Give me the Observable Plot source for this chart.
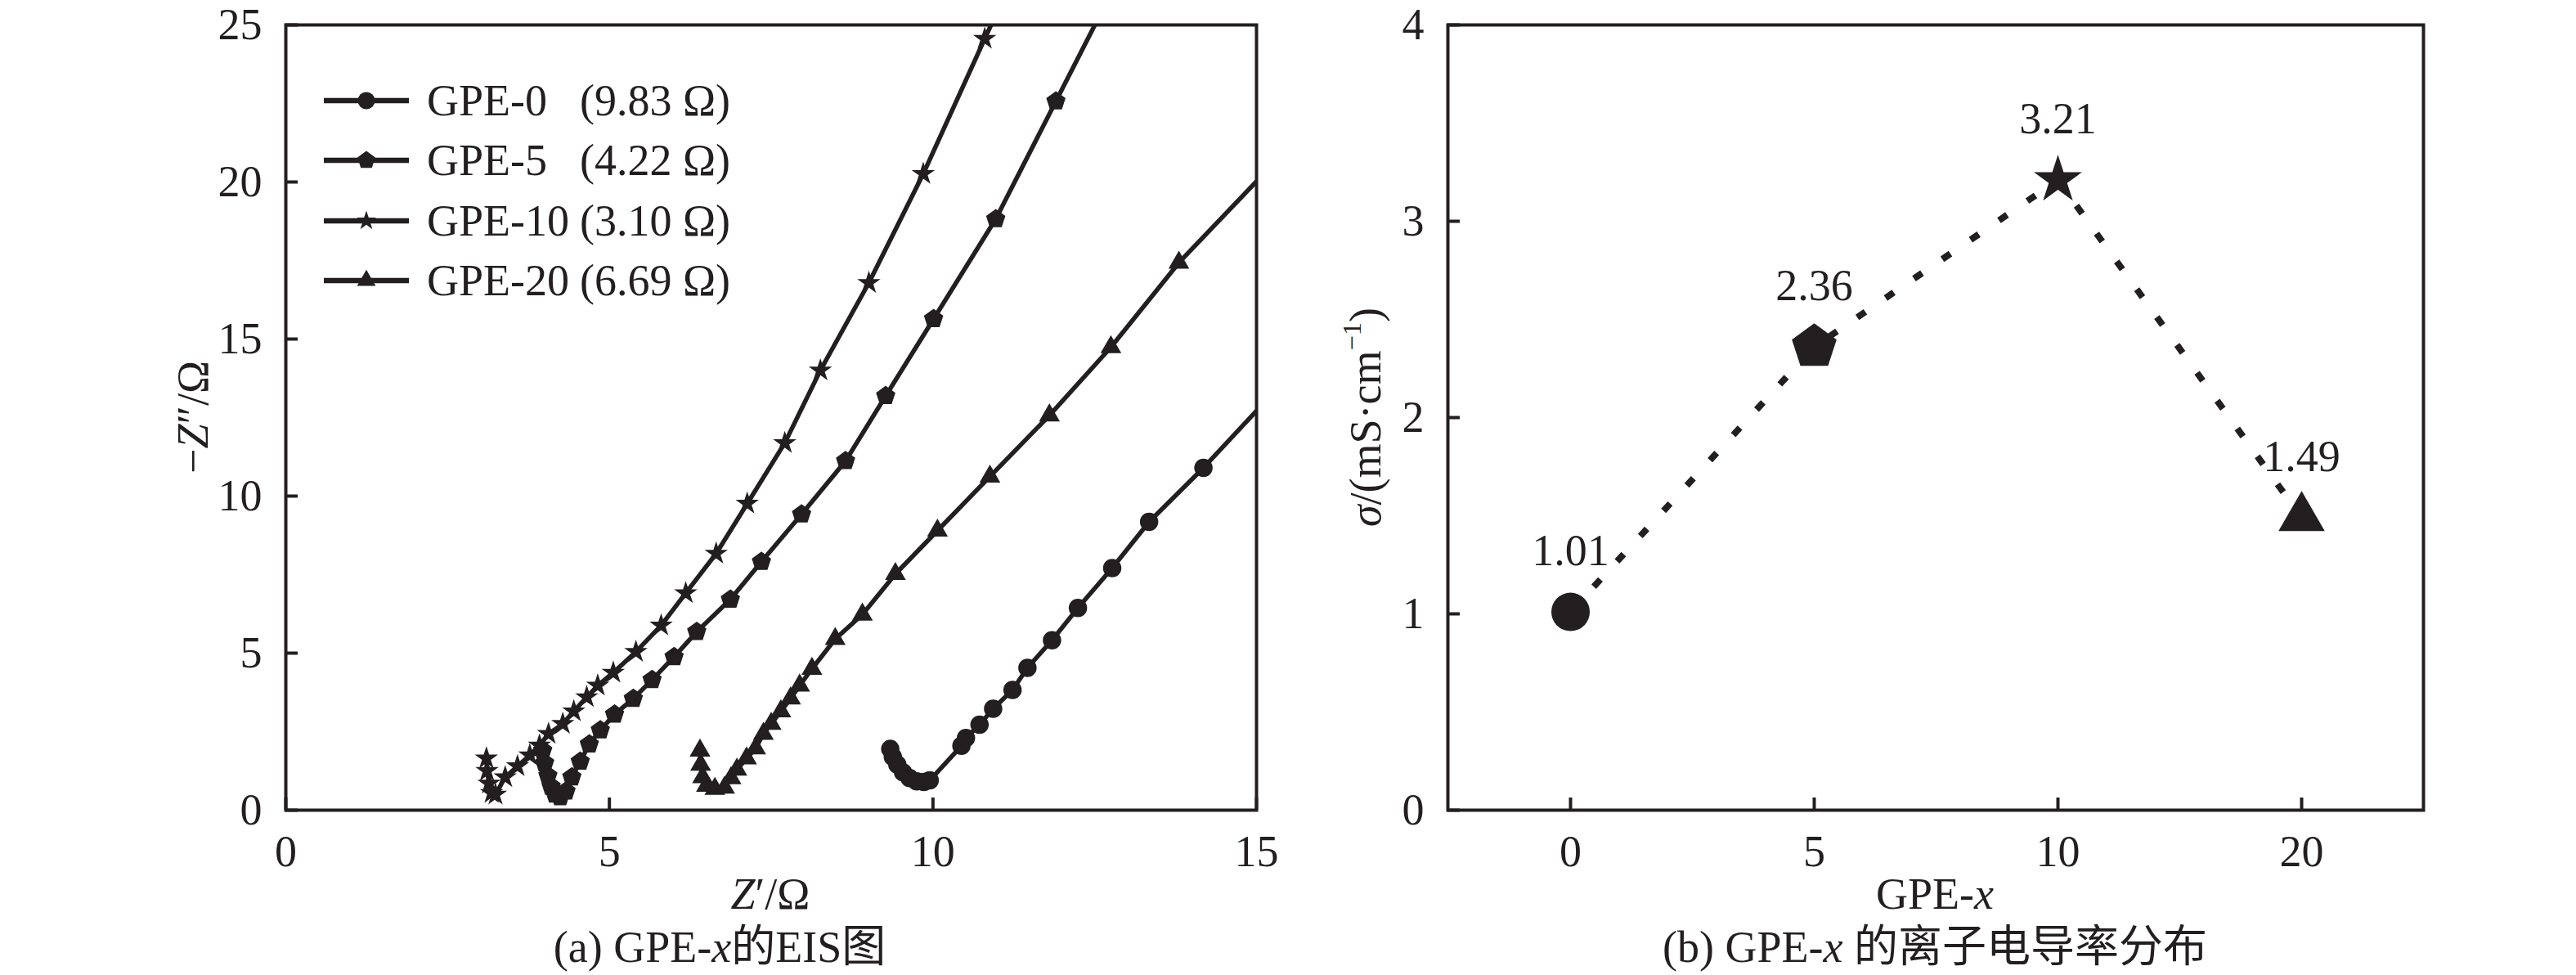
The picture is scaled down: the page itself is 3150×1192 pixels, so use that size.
<!DOCTYPE html>
<html><head><meta charset="utf-8">
<script src="https://cdn.jsdelivr.net/npm/d3@7"></script>
<script src="https://cdn.jsdelivr.net/npm/@observablehq/plot@0.6"></script>
<style>
body{margin:0;background:#fff;}
#wrap{position:relative;width:3150px;height:1192px;overflow:hidden;background:#fff;font-family:"Liberation Serif","Noto Sans CJK SC",serif;color:#231f20;}
.panel{position:absolute;top:0;}
.lbl{position:absolute;transform:translate(-50%,-50%);white-space:nowrap;font-size:54px;line-height:1.15;}
.rot{transform:translate(-50%,-50%) rotate(-90deg);}
.lbl sup{font-size:0.6em;vertical-align:0.75em;line-height:0;}
.leg{position:absolute;height:40px;font-size:54px;line-height:40px;white-space:nowrap;}
.leg svg{position:absolute;left:0;top:0;}
.leg span{position:absolute;top:0;}
</style></head>
<body><div id="wrap"></div>
<script>
const ink = "#231f20";
const FONT = '"Liberation Serif","Noto Sans CJK SC",serif';

// ---- Panel (a): Nyquist data ----
const seriesNames = ["GPE-0", "GPE-5", "GPE-10", "GPE-20"];
const seriesRb = ["(9.83 Ω)", "(4.22 Ω)", "(3.10 Ω)", "(6.69 Ω)"];
const gpe0Re = [9.34, 9.38, 9.45, 9.54, 9.64, 9.75, 9.86, 9.95, 10.44, 10.51, 10.72, 10.93, 11.23, 11.46, 11.84, 12.24, 12.77, 13.34, 14.18, 15.4];
const gpe0Im = [1.95, 1.7, 1.45, 1.2, 1.02, 0.92, 0.9, 0.95, 2.05, 2.3, 2.72, 3.23, 3.83, 4.53, 5.41, 6.44, 7.71, 9.18, 10.9, 13.6];
const gpe5Re = [3.97, 4.0, 4.05, 4.1, 4.16, 4.24, 4.33, 4.42, 4.55, 4.69, 4.86, 5.08, 5.37, 5.66, 6.0, 6.35, 6.87, 7.35, 7.97, 8.65, 9.27, 10.01, 10.97, 11.9, 12.8];
const gpe5Im = [1.9, 1.5, 1.1, 0.75, 0.5, 0.42, 0.6, 1.05, 1.55, 2.1, 2.55, 3.05, 3.55, 4.15, 4.88, 5.68, 6.71, 7.91, 9.42, 11.12, 13.19, 15.64, 18.82, 22.57, 26.2];
const gpe10Re = [3.1, 3.11, 3.14, 3.18, 3.24, 3.39, 3.58, 3.77, 3.92, 4.06, 4.28, 4.45, 4.65, 4.82, 5.06, 5.41, 5.8, 6.18, 6.65, 7.13, 7.71, 8.26, 9.01, 9.85, 10.8, 11.1];
const gpe10Im = [1.65, 1.25, 0.85, 0.55, 0.5, 1.05, 1.4, 1.75, 2.06, 2.43, 2.75, 3.15, 3.6, 3.97, 4.38, 5.04, 5.88, 6.91, 8.17, 9.76, 11.69, 14.0, 16.79, 20.26, 24.56, 25.9];
const gpe20Re = [6.4, 6.41, 6.44, 6.5, 6.63, 6.78, 6.88, 6.97, 7.12, 7.26, 7.38, 7.5, 7.65, 7.8, 7.94, 8.13, 8.49, 8.91, 9.42, 10.07, 10.88, 11.8, 12.75, 13.8, 15.5];
const gpe20Im = [1.9, 1.45, 1.05, 0.78, 0.68, 0.72, 1.02, 1.29, 1.65, 1.97, 2.43, 2.75, 3.15, 3.56, 3.97, 4.5, 5.45, 6.23, 7.52, 8.9, 10.62, 12.57, 14.74, 17.43, 21.1];
const xTicksA = [0, 5, 10, 15];
const yTicksA = [0, 5, 10, 15, 20, 25];

// ---- Panel (b): conductivity ----
const gpeX = ["0", "5", "10", "20"];
const sigma = [1.01, 2.36, 3.21, 1.49];
const sigmaLabels = ["1.01", "2.36", "3.21", "1.49"];
const yTicksB = [0, 1, 2, 3, 4];

// custom pentagon symbol
const pentagon = {
  draw(ctx, size) {
    const R = Math.sqrt(size / 2.3776);
    for (let k = 0; k < 5; k++) {
      const a = -Math.PI / 2 + k * 2 * Math.PI / 5;
      const x = R * Math.cos(a), y = R * Math.sin(a);
      if (k) ctx.lineTo(x, y); else ctx.moveTo(x, y);
    }
    ctx.closePath();
  }
};
const symA = ["circle", pentagon, "star", "triangle"];
const rA = [10.5, 10, 7.5, 8.5];
const rB = [23.5, 25, 18.5, 21];

const reArr = [gpe0Re, gpe5Re, gpe10Re, gpe20Re];
const imArr = [gpe0Im, gpe5Im, gpe10Im, gpe20Im];
const rowsA = [];
seriesNames.forEach((n, s) => reArr[s].forEach((r, i) => rowsA.push({name: n, re: r, im: imArr[s][i]})));

const W_A = 1600, H = 1060, mT = 30, mB = 70, mLA = 349, mRA = 64;
const fwA = W_A - mLA - mRA, fh = H - mT - mB;
const TICK = 15;

const marksA = [
  Plot.axisX({ticks: xTicksA, tickSize: 0, tickPadding: 30, label: null, fontSize: 54, tickFormat: d => String(d)}),
  Plot.axisY({ticks: yTicksA, tickSize: 0, tickPadding: 29, label: null, fontSize: 54, tickFormat: d => String(d)}),
  Plot.tickX(xTicksA, {x: d => d, stroke: ink, strokeWidth: 4, insetTop: fh - TICK}),
  Plot.tickY(yTicksA, {y: d => d, stroke: ink, strokeWidth: 4, insetRight: fwA - TICK}),
  Plot.line(rowsA, {x: "re", y: "im", z: "name", stroke: ink, strokeWidth: 5.5, clip: true})
];
seriesNames.forEach((n, s) => {
  marksA.push(Plot.dot(rowsA.filter(d => d.name === n), {x: "re", y: "im", symbol: symA[s], r: rA[s], fill: ink, stroke: ink, strokeWidth: 1.5, clip: true}));
});
marksA.push(Plot.frame({stroke: ink, strokeWidth: 4}));

const plotA = Plot.plot({
  width: W_A, height: H, marginTop: mT, marginBottom: mB, marginLeft: mLA, marginRight: mRA,
  x: {domain: [0, 15]}, y: {domain: [0, 25]},
  style: {fontFamily: FONT, fontSize: "54px", color: ink, background: "transparent", overflow: "visible"},
  marks: marksA
});

const W_B = 1550, mLB = 170, mRB = 187;
const fwB = W_B - mLB - mRB;
const rowsB = gpeX.map((g, i) => ({g, s: sigma[i], label: sigmaLabels[i]}));
const marksB = [
  Plot.axisX({tickSize: 0, tickPadding: 30, label: null, fontSize: 54}),
  Plot.axisY({ticks: yTicksB, tickSize: 0, tickPadding: 29, label: null, fontSize: 54, tickFormat: d => String(d)}),
  Plot.tickX(gpeX, {x: d => d, stroke: ink, strokeWidth: 4, insetTop: fh - TICK}),
  Plot.tickY(yTicksB, {y: d => d, stroke: ink, strokeWidth: 4, insetRight: fwB - TICK}),
  Plot.line(rowsB, {x: "g", y: "s", stroke: ink, strokeWidth: 8, strokeDasharray: "12,30", strokeLinecap: "butt"})
];
rowsB.forEach((d, i) => {
  marksB.push(Plot.dot([d], {x: "g", y: "s", symbol: symA[i], r: rB[i], fill: ink, stroke: "none"}));
});
marksB.push(Plot.text(rowsB, {x: "g", y: "s", text: "label", dy: -74, fontSize: 54, fill: ink}));
marksB.push(Plot.frame({stroke: ink, strokeWidth: 4}));

const plotB = Plot.plot({
  width: W_B, height: H, marginTop: mT, marginBottom: mB, marginLeft: mLB, marginRight: mRB,
  x: {type: "point", domain: gpeX, padding: 0.5}, y: {domain: [0, 4]},
  style: {fontFamily: FONT, fontSize: "54px", color: ink, background: "transparent", overflow: "visible"},
  marks: marksB
});

const wrap = document.getElementById("wrap");
plotA.classList.add("panel"); plotA.style.left = "0px";
plotB.classList.add("panel"); plotB.style.left = "1600px";
wrap.appendChild(plotA);
wrap.appendChild(plotB);

// legend (panel a)
const legTop = 103, legStep = 73.3;
seriesNames.forEach((n, s) => {
  const row = document.createElement("div");
  row.className = "leg";
  row.style.left = "394px";
  row.style.top = (legTop + s * legStep) + "px";
  const svg = d3.create("svg").attr("width", 110).attr("height", 40);
  svg.append("line").attr("x1", 2).attr("x2", 106).attr("y1", 20).attr("y2", 20)
    .attr("stroke", ink).attr("stroke-width", 6.5);
  const typ = symA[s] === "circle" ? d3.symbolCircle : symA[s] === "star" ? d3.symbolStar : symA[s] === "triangle" ? d3.symbolTriangle : symA[s];
  svg.append("path").attr("transform", "translate(54,20)")
    .attr("d", d3.symbol().type(typ).size(Math.PI * rA[s] * rA[s])())
    .attr("fill", ink);
  row.appendChild(svg.node());
  const t1 = document.createElement("span"); t1.style.left = "128px"; t1.textContent = n;
  const t2 = document.createElement("span"); t2.style.left = "315px"; t2.textContent = seriesRb[s];
  row.appendChild(t1); row.appendChild(t2);
  wrap.appendChild(row);
});

// axis titles and captions
const labels = [
  {x: 236, y: 510, rot: true, html: "−<i>Z</i>″/Ω"},
  {x: 942, y: 1093, rot: false, html: "<i>Z</i>′/Ω"},
  {x: 880, y: 1158, rot: false, html: "(a) GPE-<i>x</i>的EIS图"},
  {x: 1670, y: 510, rot: true, html: "<i>σ</i>/(mS·cm<sup>−1</sup>)"},
  {x: 2366, y: 1093, rot: false, html: "GPE-<i>x</i>"},
  {x: 2366, y: 1158, rot: false, html: "(b) GPE-<i>x</i> 的离子电导率分布"}
];
labels.forEach(l => {
  const d = document.createElement("div");
  d.className = "lbl" + (l.rot ? " rot" : "");
  d.style.left = l.x + "px"; d.style.top = l.y + "px";
  d.innerHTML = l.html;
  wrap.appendChild(d);
});
</script>
</body></html>
